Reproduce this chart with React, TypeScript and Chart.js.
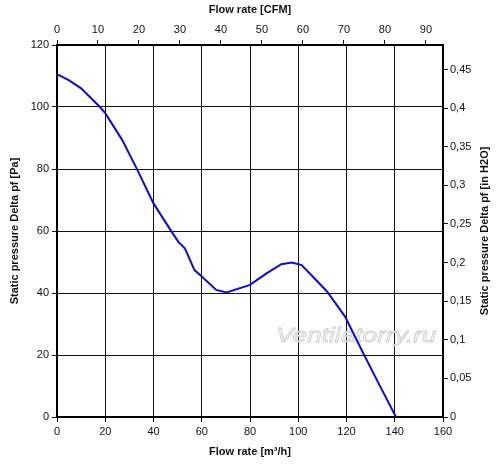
import React, { useEffect, useRef } from "react";
import { Chart, registerables } from "chart.js";

Chart.register(...registerables);

// Flow rate in m³/h and static pressure in Pa
const flowM3h = [0, 5, 10, 17.8, 20, 27, 33, 40, 47.5, 50.3, 53, 57, 60, 66, 70.3, 80, 87, 93, 97.3, 101.4, 106, 112, 119.4, 127, 134, 140.5];
const pressurePa = [110.6, 108.6, 106, 100, 98, 89.4, 80.2, 68.9, 59.8, 56.5, 54.4, 47.4, 45.3, 41, 40.2, 42.6, 46.4, 49.3, 49.8, 49, 45.3, 40.4, 32.4, 20.5, 9.8, 0];

const m3hTicks = [0, 20, 40, 60, 80, 100, 120, 140, 160];
const paTicks = [0, 20, 40, 60, 80, 100, 120];
const cfmTicks = [0, 10, 20, 30, 40, 50, 60, 70, 80, 90];
const inH2OTicks = [0, 0.05, 0.1, 0.15, 0.2, 0.25, 0.3, 0.35, 0.4, 0.45];

const M3H_PER_CFM = 1.699;
const PA_PER_INH2O = 249.089;

const FONT = "'Liberation Sans', Arial, sans-serif";

export default function App() {
  const ref = useRef<HTMLCanvasElement>(null);

  useEffect(() => {
    if (!ref.current) return;
    const xMax = m3hTicks[m3hTicks.length - 1];
    const yMax = paTicks[paTicks.length - 1];
    const tickFont = { family: FONT, size: 11 };
    const titleFont = { family: FONT, size: 11, weight: "bold" as const };
    const gridBase = { color: "#111", lineWidth: 1, tickLength: 5, tickColor: "#111" };
    const border = { color: "#000", width: 2 };

    const overlay = {
      id: "overlay",
      beforeDatasetsDraw(chart: any) {
        const { ctx, chartArea } = chart;
        ctx.save();
        ctx.translate(chartArea.left + 219, chartArea.top + 297);
        ctx.scale(1.25, 1);
        ctx.font = `italic 21px ${FONT}`;
        ctx.textAlign = "left";
        ctx.textBaseline = "alphabetic";
        ctx.lineWidth = 0.8;
        ctx.strokeStyle = "#d0d0d0";
        ctx.fillStyle = "#f5f5f5";
        ctx.fillText("Ventilatorry.ru", 0, 0);
        ctx.strokeText("Ventilatorry.ru", 0, 0);
        ctx.restore();
      },
      afterDraw(chart: any) {
        const { ctx, chartArea } = chart;
        ctx.save();
        ctx.translate(485, (chartArea.top + chartArea.bottom) / 2);
        ctx.rotate(-Math.PI / 2);
        ctx.font = `bold 11px ${FONT}`;
        ctx.fillStyle = "#111";
        ctx.textAlign = "center";
        ctx.textBaseline = "middle";
        ctx.fillText("Static pressure Delta pf [in H2O]", 0, 0);
        ctx.restore();
      },
    };

    const chart = new Chart(ref.current, {
      type: "line",
      data: {
        datasets: [
          {
            data: flowM3h.map((x, i) => ({ x, y: pressurePa[i] })),
            borderColor: "#0d0dcc",
            borderWidth: 2,
            pointRadius: 0,
            tension: 0,
            fill: false,
            xAxisID: "x",
            yAxisID: "y",
          },
        ],
      },
      options: {
        animation: false,
        responsive: false,
        layout: { padding: 0 },
        plugins: { legend: { display: false }, tooltip: { enabled: false } },
        scales: {
          x: {
            type: "linear",
            position: "bottom",
            min: 0,
            max: xMax,
            afterBuildTicks: (s: any) => { s.ticks = m3hTicks.map((v) => ({ value: v })); },
            afterFit: (s: any) => { s.height = 53; },
            ticks: { font: tickFont, color: "#111", padding: 3, maxRotation: 0 },
            grid: { ...gridBase },
            border,
            title: { display: true, text: "Flow rate [m³/h]", font: titleFont, color: "#111", padding: { top: 0, bottom: 11 } },
          },
          x2: {
            type: "linear",
            axis: "x",
            position: "top",
            min: 0,
            max: xMax / M3H_PER_CFM,
            afterBuildTicks: (s: any) => { s.ticks = cfmTicks.map((v) => ({ value: v })); },
            afterFit: (s: any) => { s.height = 45; },
            ticks: { font: tickFont, color: "#111", padding: 3, maxRotation: 0 },
            grid: { ...gridBase, drawOnChartArea: false },
            border,
            title: { display: true, text: "Flow rate [CFM]", font: titleFont, color: "#111", padding: { top: 3, bottom: 0 } },
          },
          y: {
            type: "linear",
            position: "left",
            min: 0,
            max: yMax,
            afterBuildTicks: (s: any) => { s.ticks = paTicks.map((v) => ({ value: v })); },
            afterFit: (s: any) => { s.width = 57; },
            ticks: { font: tickFont, color: "#111", padding: 3 },
            grid: { ...gridBase },
            border,
            title: { display: true, text: "Static pressure Delta pf [Pa]", font: titleFont, color: "#111", padding: { top: 8, bottom: 0 } },
          },
          y2: {
            type: "linear",
            axis: "y",
            position: "right",
            min: 0,
            max: yMax / PA_PER_INH2O,
            afterBuildTicks: (s: any) => { s.ticks = inH2OTicks.map((v) => ({ value: v })); },
            afterFit: (s: any) => { s.width = 57; },
            ticks: {
              font: tickFont,
              color: "#111",
              padding: 2,
              callback: (v: any) => String(parseFloat(Number(v).toFixed(2))).replace(".", ","),
            },
            grid: { ...gridBase, drawOnChartArea: false },
            border,
          },
        },
      },
      plugins: [overlay],
    } as any);
    return () => chart.destroy();
  }, []);

  return (
    <div style={{ position: "fixed", left: 0, top: 0, width: 500, height: 470, background: "#fff" }}>
      <canvas ref={ref} width={500} height={470} style={{ width: 500, height: 470, display: "block" }} />
    </div>
  );
}
